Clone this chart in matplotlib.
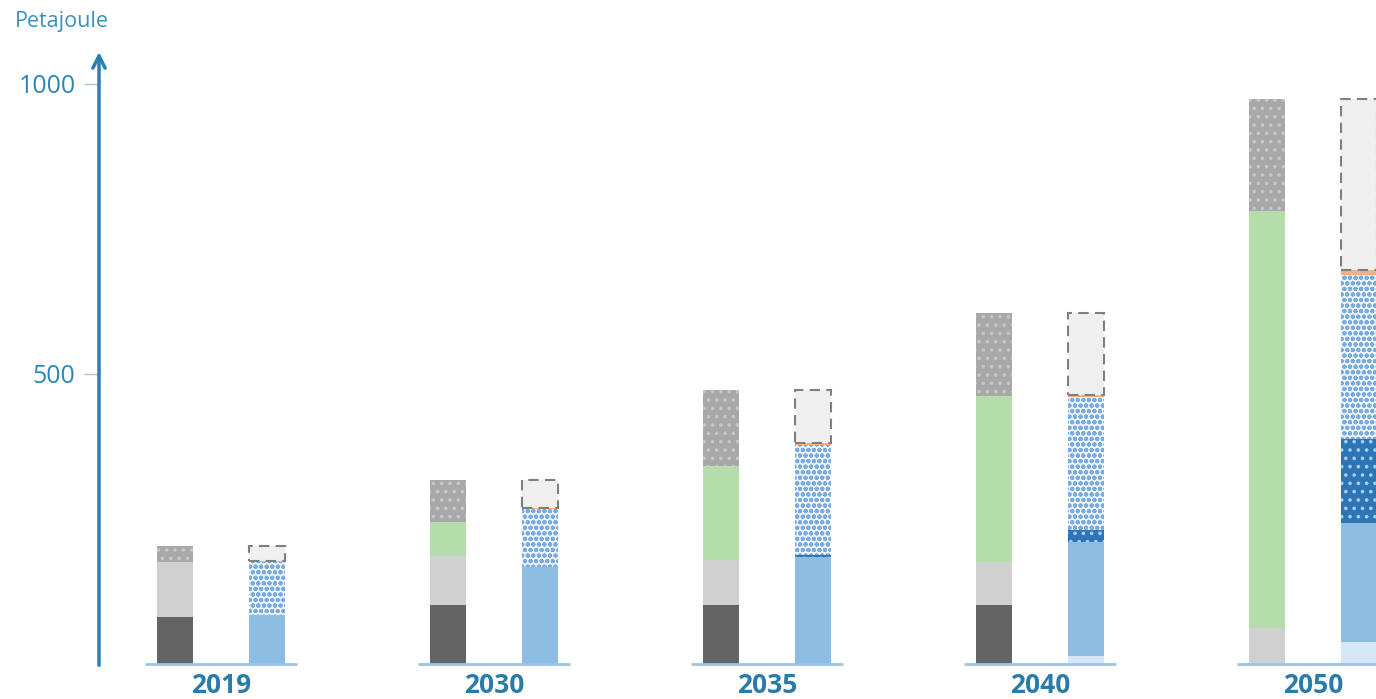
import matplotlib
matplotlib.use("Agg")
import matplotlib.pyplot as plt
import numpy as np

plt.rcParams['font.family'] = ['Open Sans', 'DejaVu Sans']
plt.rcParams['hatch.linewidth'] = 1.4

years = ["2019", "2030", "2035", "2040", "2050"]

# left bar (stacked, bottom to top)
left_dark = [81, 102, 102, 102, 0]
left_light = [95, 84, 77, 74, 62]
left_green = [0, 59, 162, 286, 719]
left_dotted = [27, 72, 131, 143, 193]

# right bar (stacked, bottom to top)
right_pale = [0, 0, 0, 14, 38]
right_light = [84, 167, 184, 196, 205]
right_dark = [0, 0, 4, 21, 145]
right_dots = [92, 100, 190, 229, 283]
right_orange = [2, 2, 3, 4, 8]
right_box = [25, 48, 91, 141, 295]

AXIS_BLUE = '#2a7fb0'
TEXT_BLUE = '#2e86b8'

fig = plt.figure(figsize=(13.76, 6.99), dpi=100)
ax = fig.add_axes([99 / 1376, 35 / 699, 1277 / 1376, 612 / 699])

x = np.arange(len(years))
w = 0.132
off = 0.167

# left bars
bottom = np.zeros(len(years))
ax.bar(x - off, left_dark, w, bottom=bottom, color='#646464', lw=0)
bottom += left_dark
ax.bar(x - off, left_light, w, bottom=bottom, color='#d0d0d0', lw=0)
bottom += left_light
ax.bar(x - off, left_green, w, bottom=bottom, color='#b5dcab', lw=0)
bottom += left_green
ax.bar(x - off, left_dotted, w, bottom=bottom, color='#a8a8a8', edgecolor='#c6c6c6',
       hatch='..', lw=0)

# right bars
bottom = np.zeros(len(years))
ax.bar(x + off, right_pale, w, bottom=bottom, color='#d5e7f6', lw=0)
bottom += right_pale
ax.bar(x + off, right_light, w, bottom=bottom, color='#8dbde3', lw=0)
bottom += right_light
ax.bar(x + off, right_dark, w, bottom=bottom, color='#2e75b6', edgecolor='#a9cbec',
       hatch='..', lw=0)
bottom += right_dark
ax.bar(x + off, right_dots, w, bottom=bottom, color='#eef4fb', edgecolor='#79acdc',
       hatch='ooo', lw=0)
bottom += right_dots
ax.bar(x + off, right_orange, w, bottom=bottom, color='#f4b183', lw=0)
bottom += right_orange
ax.bar(x + off, right_box, w, bottom=bottom, color='#efefef', edgecolor='#7f7f7f',
       lw=1.5, ls=(0, (5, 3)))

# base lines under each year group
for xi in x:
    ax.plot([xi - 0.28, xi + 0.28], [0, 0], color='#9dc3e6', lw=2, clip_on=False,
            solid_capstyle='butt')

ax.set_xlim(-0.447, 4.231)
ax.set_ylim(0, 1055)

for s in ['top', 'right', 'bottom', 'left']:
    ax.spines[s].set_visible(False)

# y axis with arrow
ax.annotate('', xy=(0, 1.0), xycoords='axes fraction', xytext=(0, -0.002),
            arrowprops=dict(arrowstyle='->', color=AXIS_BLUE, lw=2.5,
                            mutation_scale=22, shrinkA=0, shrinkB=0))

ax.set_yticks([500, 1000])
ax.set_yticklabels(['500', '1000'], fontsize=18, color=TEXT_BLUE)
ax.tick_params(axis='y', length=11, width=1, color='#a9c4d8', pad=6)

ax.set_xticks(x)
ax.set_xticklabels(years, fontsize=19, fontweight='bold', color='#2a7ca8')
ax.tick_params(axis='x', length=0, pad=6)

fig.text(15 / 1376, 1 - 21 / 699, 'Petajoule', fontsize=15.5, color='#3a90c2',
         ha='left', va='center')

fig.savefig('out.png', dpi=100)
